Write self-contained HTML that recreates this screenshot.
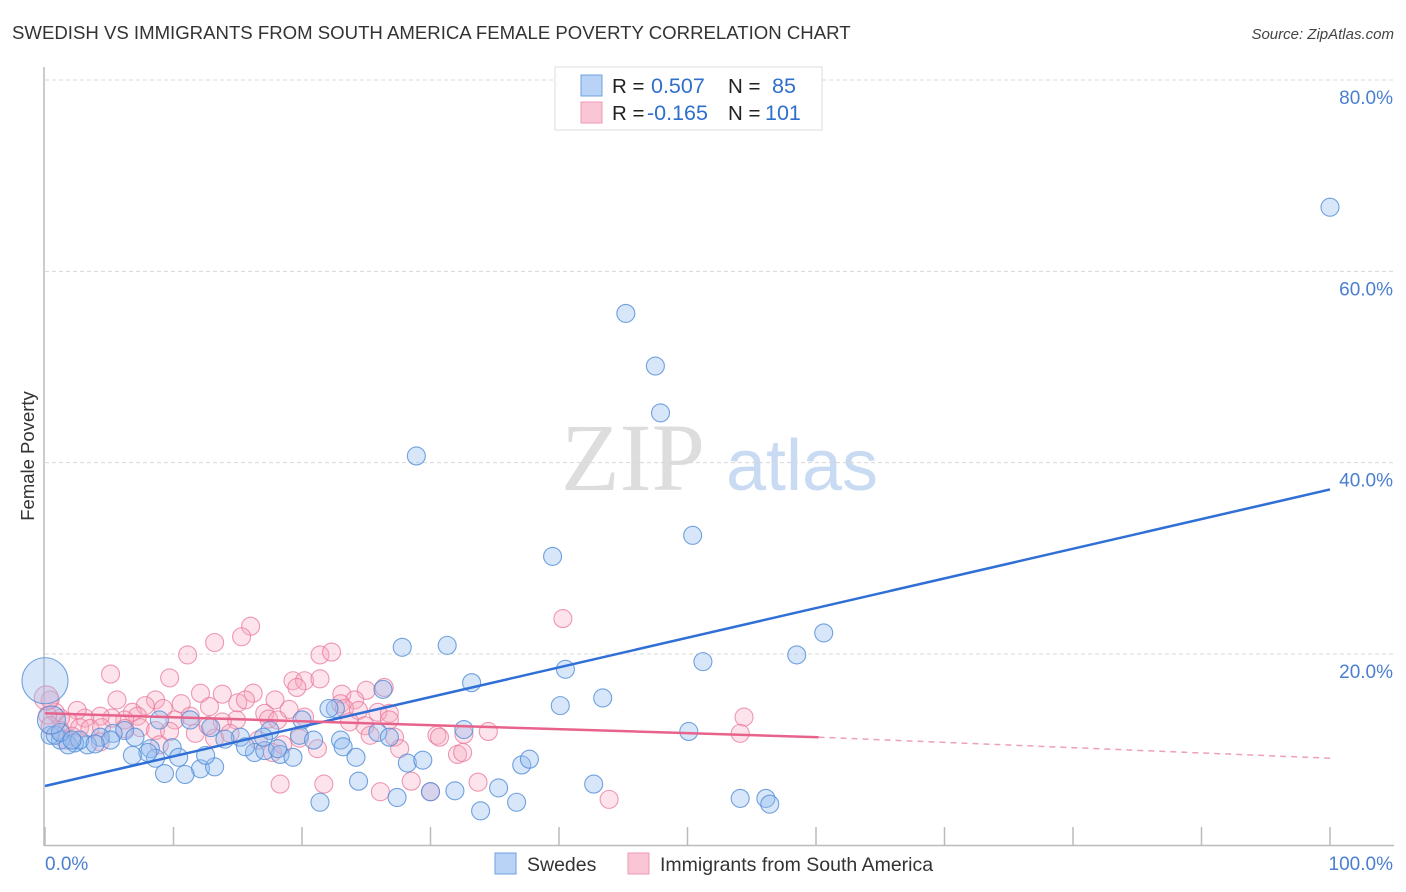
<!DOCTYPE html>
<html><head><meta charset="utf-8"><style>
body{margin:0;background:#fff;font-family:"Liberation Sans",sans-serif;}
svg{display:block}
</style></head><body>
<svg id="chart" width="1406" height="892" xmlns="http://www.w3.org/2000/svg">
<text x="12" y="39" font-size="18.6" fill="#333">SWEDISH VS IMMIGRANTS FROM SOUTH AMERICA FEMALE POVERTY CORRELATION CHART</text>
<text x="1394" y="39" font-size="15" fill="#444" font-style="italic" text-anchor="end">Source: ZipAtlas.com</text>
<g>
<text x="633" y="490" font-size="96" fill="#ddd" font-family="Liberation Serif,serif" text-anchor="middle">ZIP</text>
<text x="802" y="490" font-size="72" fill="#c9dbf3" text-anchor="middle">atlas</text>
</g>
<g id="grid"></g>
<g id="axes"></g>
<g id="marks"></g>
<g>
<rect x="555" y="67" width="267" height="63" fill="#fff" stroke="#ddd"/>
<rect x="581" y="75" width="21" height="21" fill="#b8d3f5" stroke="#6fa0e0"/>
<rect x="581" y="102" width="21" height="21" fill="#fac6d6" stroke="#ee9ab4"/>
<text x="612" y="93" font-size="20.5" fill="#222">R = </text><text x="651" y="93" font-size="21.5" fill="#2f6fcc">0.507</text>
<text x="728" y="93" font-size="20.5" fill="#222">N = </text><text x="772" y="93" font-size="21.5" fill="#2f6fcc">85</text>
<text x="612" y="120" font-size="20.5" fill="#222">R = </text><text x="647" y="120" font-size="21.5" fill="#2f6fcc">-0.165</text>
<text x="728" y="120" font-size="20.5" fill="#222">N = </text><text x="765" y="120" font-size="21.5" fill="#2f6fcc">101</text>
</g>
<g>
<rect x="495" y="853" width="21" height="21" fill="#b8d3f5" stroke="#6fa0e0"/>
<text x="527" y="871" font-size="19.5" fill="#333">Swedes</text>
<rect x="628" y="853" width="21" height="21" fill="#fac6d6" stroke="#ee9ab4"/>
<text x="660" y="871" font-size="19.5" fill="#333">Immigrants from South America</text>
</g>
<text transform="translate(34,456) rotate(-90)" font-size="18.5" fill="#333" text-anchor="middle">Female Poverty</text>
</svg>
<script>
const yTicks=[20,40,60,80];
const yTickLabels=["20.0%","40.0%","60.0%","80.0%"];
const xTickVals=[0,10,20,30,40,50,60,70,80,90,100];
const blueX=[100,45.2,47.5,47.9,28.9,39.5,50.4,60.6,58.5,51.2,27.8,31.3,40.5,33.2,43.4,40.1,50.1,32.6,26.3,22.6,20.0,22.1,17.5,15.2,14.0,12.9,11.3,8.9,6.2,5.3,4.3,3.3,2.3,1.2,0.4,0.8,1.8,2.7,7.0,8.2,9.9,10.4,12.1,13.2,10.9,9.3,8.6,8.0,6.8,16.3,17.1,18.3,19.3,19.8,20.9,23.0,23.2,24.2,25.9,26.8,28.2,29.4,24.4,21.4,27.4,30.0,31.9,33.9,35.3,36.7,37.1,37.7,42.7,54.1,56.1,56.4,15.6,17.0,18.1,5.1,3.9,12.5,1.2,2.1];
const blueY=[66.7,55.6,50.1,45.2,40.7,30.2,32.4,22.2,19.9,19.2,20.7,20.9,18.4,17.0,15.4,14.6,11.9,12.1,16.3,14.3,13.1,14.3,12.0,11.3,11.1,12.3,13.1,13.1,12.0,11.7,11.3,10.5,10.7,11.0,11.5,11.5,10.5,11.0,11.3,10.1,10.2,9.2,8.0,8.2,7.4,7.5,9.1,9.7,9.4,9.7,9.9,9.5,9.2,11.5,11.0,11.0,10.3,9.2,11.8,11.3,8.6,8.9,6.7,4.5,5.0,5.6,5.7,3.6,6.0,4.5,8.4,9.0,6.4,4.9,4.9,4.3,10.3,11.3,10.1,11.0,10.6,9.4,11.8,11.0];
const blueBigX=[0,0.5];
const blueBigY=[17.2,13.1];
const pinkX=[40.3,16.0,15.3,13.2,11.1,5.1,9.7,21.4,22.3,19.3,20.2,21.4,19.6,26.4,25.0,23.1,24.1,23.0,16.2,13.8,12.1,8.6,5.6,7.8,6.8,9.2,10.6,12.8,15.0,15.6,17.1,19.0,17.4,18.1,20.2,14.9,13.8,11.3,10.1,7.2,6.2,5.2,4.3,3.1,2.5,1.8,1.2,0.8,0.4,0.2,2.7,3.5,4.4,6.2,7.4,8.6,9.7,11.7,13.2,16.6,17.7,18.5,19.8,21.2,23.3,24.4,25.9,26.8,27.2,27.6,30.5,32.6,34.5,32.1,32.5,18.3,21.7,26.1,28.5,30.0,33.7,43.9,54.4,54.1,0.4,1.2,1.6,2.1,4.3,8.9,12.7,14.4,17.9,24.9,25.3,23.7,26.8,30.7];
const pinkY=[23.7,22.9,21.8,21.2,19.9,17.9,17.5,19.9,20.2,17.2,17.2,17.4,16.5,16.5,16.2,15.8,15.2,14.8,15.9,15.8,15.9,15.2,15.2,14.6,13.9,14.3,14.8,14.5,14.9,15.2,13.8,14.2,13.2,13.1,13.4,13.1,12.9,13.5,13.1,13.5,13.1,13.3,13.5,13.3,14.1,12.9,13.3,13.9,15.2,13.6,12.3,12.2,12.3,12.2,12.3,12.0,11.9,11.7,11.2,11.0,9.7,10.5,11.2,10.1,14.3,14.1,13.9,13.8,11.3,10.1,11.5,11.6,11.9,9.5,9.7,6.4,6.4,5.6,6.7,5.6,6.6,4.8,13.4,11.7,12.5,12.0,11.0,11.4,10.8,10.5,12.5,11.7,15.2,12.5,11.5,12.9,13.1,11.3];
const pinkBigX=[0.1];
const pinkBigY=[15.4];
const blueTrendX=[0,100];
const blueTrendY=[6.2,37.2];
const pinkTrendX=[0,60.2,100];
const pinkTrendY=[13.8,11.3,9.1];

const NS="http://www.w3.org/2000/svg";
const X0=45,X1=1330,Y0=845.3,Y80=80;
const sx=v=>X0+(X1-X0)*v/100;
const sy=v=>Y0-(Y0-Y80)*v/80;
function mk(tag,attrs,parent){const e=document.createElementNS(NS,tag);for(const k in attrs)e.setAttribute(k,attrs[k]);parent.appendChild(e);return e;}
const grid=document.getElementById('grid'),axes=document.getElementById('axes'),marks=document.getElementById('marks');
yTicks.forEach((t,i)=>{
 const l=mk('line',{x1:X0,x2:1394,y1:sy(t),y2:sy(t),stroke:'#d8d8d8','stroke-dasharray':'4,3'},grid);
 
 
 const tx=mk('text',{x:1393,y:sy(t)+24,'font-size':19,fill:'#4a7fd0','text-anchor':'end'},axes);
 tx.textContent=yTickLabels[i];
 
 
});
const ya=mk('line',{x1:44,x2:44,y1:67,y2:846,stroke:'#bbb','stroke-width':1.5},axes);


const xa=mk('line',{x1:44,x2:1394,y1:845.5,y2:845.5,stroke:'#bbb','stroke-width':1.5},axes);


xTickVals.forEach(t=>{
 const l=mk('line',{x1:sx(t),x2:sx(t),y1:827,y2:845,stroke:'#bbb','stroke-width':1.5},axes);
 
 
});
const xl0=mk('text',{x:45,y:870,'font-size':19,fill:'#4a7fd0'},axes);xl0.textContent='0.0%';


const xl1=mk('text',{x:1393,y:870,'font-size':19,fill:'#4a7fd0','text-anchor':'end'},axes);xl1.textContent='100.0%';



function pts(xs,ys,r,fill,stroke,name){xs.forEach((x,i)=>{
 const c=mk('circle',{cx:sx(x),cy:sy(ys[i]),r:r,fill:fill,stroke:stroke,'stroke-width':1.1},marks);
 
 
});}
pts(pinkX,pinkY,9,'rgba(248,170,195,0.33)','rgba(232,120,155,0.75)','immigrants-point');
pts(pinkBigX,pinkBigY,12,'rgba(248,170,195,0.33)','rgba(232,120,155,0.75)','immigrants-point');
pts(blueX,blueY,9,'rgba(150,190,240,0.38)','rgba(80,140,215,0.8)','swedes-point');
pts([blueBigX[0]],[blueBigY[0]],23,'rgba(150,190,240,0.38)','rgba(80,140,215,0.8)','swedes-point');
pts([blueBigX[1]],[blueBigY[1]],14,'rgba(150,190,240,0.38)','rgba(80,140,215,0.8)','swedes-point');

const bl=mk('line',{x1:sx(blueTrendX[0]),y1:sy(blueTrendY[0]),x2:sx(blueTrendX[1]),y2:sy(blueTrendY[1]),stroke:'#2f6fd6','stroke-width':2.5},marks);


const pl=mk('line',{x1:sx(pinkTrendX[0]),y1:sy(pinkTrendY[0]),x2:sx(pinkTrendX[1]),y2:sy(pinkTrendY[1]),stroke:'#e8638c','stroke-width':2.5},marks);


const pd=mk('line',{x1:sx(pinkTrendX[1]),y1:sy(pinkTrendY[1]),x2:sx(pinkTrendX[2]),y2:sy(pinkTrendY[2]),stroke:'#eea0b8','stroke-width':1.5,'stroke-dasharray':'6,5'},marks);


</script>
</body></html>
